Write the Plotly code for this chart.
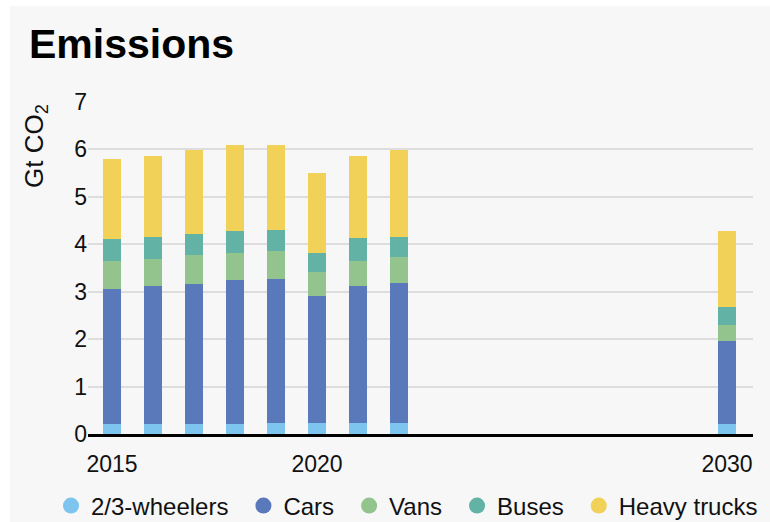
import plotly.graph_objects as go

years = [2015, 2016, 2017, 2018, 2019, 2020, 2021, 2022, 2030]
wheelers = [0.22, 0.22, 0.22, 0.22, 0.24, 0.24, 0.24, 0.24, 0.21]
cars = [2.84, 2.91, 2.95, 3.02, 3.03, 2.68, 2.89, 2.94, 1.75]
vans = [0.59, 0.57, 0.60, 0.58, 0.58, 0.49, 0.52, 0.55, 0.34]
buses = [0.46, 0.46, 0.45, 0.47, 0.46, 0.41, 0.48, 0.43, 0.38]
trucks = [1.69, 1.71, 1.76, 1.81, 1.79, 1.68, 1.74, 1.83, 1.60]

series_names = ["2/3-wheelers", "Cars", "Vans", "Buses", "Heavy trucks"]
series_values = [wheelers, cars, vans, buses, trucks]
colors = ["#7DC4EE", "#5A79BA", "#93C48D", "#62B2A6", "#F1D158"]

x_tickvals = [2015, 2020, 2030]
x_ticktext = ["2015", "2020", "2030"]
y_tickvals = [0, 1, 2, 3, 4, 5, 6, 7]

FONT = "Liberation Sans, Arial, sans-serif"
BG = "#F7F7F7"
PAD = "<span style='font-size:18px'>&nbsp;&nbsp;</span>"

fig = go.Figure()
for name, vals, col in zip(series_names, series_values, colors):
    fig.add_trace(go.Bar(x=years, y=vals, name=name, marker=dict(color=col, line=dict(width=0)),
                         width=0.42, showlegend=False))
for i, (name, col) in enumerate(zip(series_names, colors)):
    label = name + (PAD if i < len(series_names) - 1 else "")
    fig.add_trace(go.Scatter(x=[None], y=[None], mode="markers", name=label,
                             marker=dict(color=col, size=19, symbol="circle"), showlegend=True))

W, H = 770, 522
L, R, T, B = 88, 17, 102, 88
pw, ph = W - L - R, H - T - B

def px_x(p):
    return (p - L) / pw

def px_y(p):
    return (H - B - p) / ph

fig.update_layout(
    width=W, height=H,
    margin=dict(l=L, r=R, t=T, b=B, autoexpand=False),
    barmode="stack",
    paper_bgcolor="white",
    plot_bgcolor=BG,
    font=dict(family=FONT, color="#111111", size=22),
    title=dict(text="<b>Emissions</b>", font=dict(size=41, color="#000000", family=FONT),
               x=29 / W, xanchor="left", y=1 - 44 / H, yanchor="middle", xref="container", yref="container"),
    xaxis=dict(range=[2014.415, 2030.634], tickvals=x_tickvals, ticktext=x_ticktext,
               showgrid=False, zeroline=False, showline=True, linecolor="#000000", linewidth=2.5,
               ticks="", tickfont=dict(size=23, family=FONT, color="#111111"), ticklabelstandoff=8),
    yaxis=dict(range=[0, 7], tickvals=y_tickvals, showgrid=True, gridcolor="#DDDDDD", gridwidth=1.5,
               zeroline=False, showline=False, ticks="", tickfont=dict(size=23, family=FONT, color="#111111")),
    legend=dict(orientation="h", x=px_x(51), xanchor="left", y=px_y(506), yanchor="middle",
                font=dict(size=24, family=FONT, color="#111111"), bgcolor="rgba(0,0,0,0)",
                itemsizing="trace", traceorder="normal"),
    shapes=[dict(type="rect", xref="paper", yref="paper", layer="below",
                 x0=px_x(10), x1=px_x(775), y0=px_y(530), y1=px_y(6),
                 fillcolor=BG, line=dict(width=0))],
    annotations=[dict(text="Gt CO<sub>2</sub>", textangle=-90, showarrow=False,
                      xref="paper", yref="paper", x=px_x(35), xanchor="center",
                      y=1, yanchor="top", font=dict(size=26, family=FONT, color="#111111"))],
)

fig.write_html("out.html", config={"displayModeBar": False},
               post_script="document.body.style.margin='0';")
